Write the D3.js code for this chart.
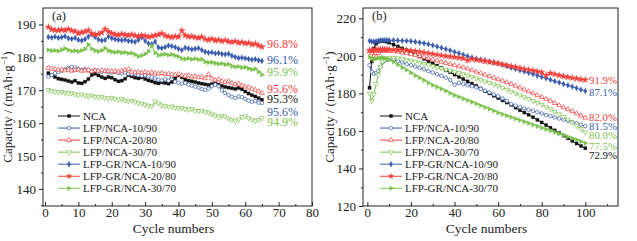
<!DOCTYPE html>
<html>
<head>
<meta charset="utf-8">
<script src="https://cdn.jsdelivr.net/npm/d3@7"></script>
<style>
  body { margin: 0; background: #fff; }
  svg { font-family: "Liberation Serif", "Times New Roman", serif; }
</style>
</head>
<body>
<svg id="chart" width="637" height="241"></svg>
<script>
// series names (legend order)
const seriesNames = ["NCA", "LFP/NCA-10/90", "LFP/NCA-20/80", "LFP/NCA-30/70",
  "LFP-GR/NCA-10/90", "LFP-GR/NCA-20/80", "LFP-GR/NCA-30/70"];

// panel (a) cycles and capacities
const cyclesA = d3.range(1, 66);
const ncaA = [175.2,174.6,174,173.5,173.3,173.1,172.8,172.5,172.9,172.2,
  172.1,172.6,173.4,174.6,175,174.5,174,173.6,174,173.8,
  173.2,172.7,172.9,173.5,174.6,174.2,173.8,173.6,173.9,173.4,
  173,172.7,172.3,172.1,172.4,172.2,172,172.5,173.6,174.5,
  173.9,173.2,172.9,172.7,172.5,172.2,172,171.8,171.6,171.9,
  172.1,171.7,171.3,171,170.8,170.6,170.4,170.7,170.3,169.6,
  169,168.5,168.1,167.6,167.1];
const lfp10A = [174.1,174.6,175.2,175.5,175.9,176.3,176.8,177.1,176.9,176.5,
  176.2,176.4,176,175.8,176.1,175.7,175.6,175.8,175.5,175.4,
  175.6,175.3,175.1,175.4,175,174.9,175.1,174.6,174.4,174.6,
  174.2,173.9,173.6,173.2,173,173.3,172.9,174.3,172.6,172.3,
  172,172.2,171.7,171.4,171.1,170.8,170.3,170.1,170.5,171.2,
  171.7,171.2,170,169.2,168.5,168,167.6,168.1,167.9,167.4,
  166.8,166.5,166.7,166.2,166.1];
const lfp20A = [176.8,176.5,176.4,176.2,176.3,176,176.2,175.9,176.1,176.3,
  175.9,176,176.1,175.8,176,175.9,176.1,175.8,175.9,175.7,
  175.8,175.6,175.9,176.2,176.4,175.6,175.4,175.6,175.3,175.5,
  175.2,175.4,175.1,175,175.2,174.9,175,174.8,174.6,174.9,
  174.5,174.3,174.5,174.1,174.2,173.9,174,173.6,174.8,173.5,
  173.1,173.3,172.8,172.5,172.7,172.2,171.8,172,171.4,171.1,
  170.8,170.4,170.1,169.6,169.1];
const lfp30A = [170.1,169.8,169.6,169.4,169.5,169.2,169,169.1,168.8,168.6,
  168.7,168.4,168.2,168.4,168,167.8,168,167.6,167.5,167.7,
  167.3,167.1,167.3,166.9,166.7,166.8,166.4,166.1,165.9,165.6,
  165.3,165.1,166.6,166,165.4,165.2,164.9,165.1,164.7,164.5,
  164.6,164.3,164.1,164.3,163.8,163.6,163.8,163.4,163.2,162.7,
  162.3,161.8,162.2,162,161.4,160.9,160.6,161.1,161.9,162.1,
  161.5,161,160.6,161,161.5];
const gr10A = [186.2,186,186.3,185.9,186.1,186.4,185.8,185.6,185.9,185.3,
  185.1,185.5,186.3,187,186.2,185.4,185.1,185.3,186.3,185.8,
  185.5,185.3,185.2,185.4,185,184.9,184.7,185.3,186.1,185,
  184.2,184,184.8,183,182.8,183.1,183.6,183.4,183.1,182.6,
  182.2,182.9,182.7,182.4,182.6,182.8,182.2,181.7,181.4,181.5,
  181.2,181.3,181,180.9,181.1,180.5,180.1,179.8,179.9,179.7,
  179.5,179.3,179.4,179.1,178.9];
const gr20A = [189.2,188.5,188.3,188.2,188.4,188.2,188.6,188.1,187.9,187.3,
  187.6,187.8,188.2,187.2,186.9,187.1,187.5,188.6,187.8,187.3,
  187,186.8,187.1,186.9,186.7,186.9,186.6,186.4,186.7,186.5,
  186.2,186.4,186.7,186.9,187.3,186.6,186.3,186.1,186.4,186.2,
  188.1,186.7,186.3,186.4,186.1,185.9,186.2,185.5,185.3,185.6,
  185.1,185.3,184.9,185.2,184.8,184.6,184.9,184.4,184.6,184.2,
  184.4,183.9,184.1,183.6,183.2];
const gr30A = [182.2,182,182.1,181.9,182.3,182.7,182.2,181.9,182,181.8,
  182.1,182.5,183.9,182.6,182,181.8,182.1,182.8,182,181.7,
  181.5,181.7,181.4,181.5,181.2,181.3,180.8,180.3,180.6,181,
  181.8,183.5,181.4,180.6,180.8,181,180.7,180.9,180.5,180.2,
  179.6,179.5,179.7,179.4,179.6,179.3,179.4,178.6,178.4,178.5,
  178.2,178,178.1,177.8,177.9,177.3,177.1,177.2,176.9,177,
  176.6,176.3,176.5,175.6,174.7];
const retentionA = ["95.3%", "95.6%", "95.6%", "94.9%", "96.1%", "96.8%", "95.9%"];
const retentionAtA = [167.3, 163.3, 170.3, 160.2, 179.3, 184.1, 175.5];

// panel (b) cycles and capacities
const cyclesB = d3.range(1, 11).concat(d3.range(12, 101, 2));
const ncaB = [183,197,204,206.5,207.5,208,208,207.8,207.5,207,
  206,205,204,203,202,200.8,199.6,198.4,197.2,196,
  194.8,193.6,192.4,191.2,190,188.8,187.6,186.4,185.2,184,
  182.6,181.2,180,178.7,177.5,176.3,175.1,173.9,172.4,171,
  169.8,168.6,167.3,165.9,164.5,163.1,161.7,160.3,158.9,157.5,
  156.1,154.7,153.3,152,150.8];
const lfp10B = [195,191.5,190.5,190.8,191.8,194,196.5,197.5,198,198,
  197.8,197.2,196.5,195.6,195,194.2,193.6,192.8,191.9,191.1,
  190.2,189.3,188.4,187.2,184.6,185.6,185,184.3,183.8,183.2,
  182.4,181.5,180.5,179.4,178.5,177.3,176,174.4,173.5,172.6,
  172,171.3,170.7,170,169.3,168.5,167.8,167.2,166.6,166,
  165.3,164.7,164,163.3,162.6];
const lfp20B = [202.5,201.5,200,199.5,201.5,202.5,202.8,202.8,202.7,202.6,
  202.5,202.2,201.8,201.4,201,200.4,199.8,199.2,198.6,198,
  197.4,196.8,196.2,195.6,195,194.4,193.8,193.1,192.3,191.5,
  190.7,189.9,189.1,188.3,187.5,186.7,185.9,185,184,183,
  182,181,180,179,178,177,176,174.8,173.6,172.5,
  171.5,170.5,169.3,168.1,167];
const lfp30B = [180,176,179.5,185,190,194,197,198,198.5,199,
  199,198.8,198.5,198,197.5,196.9,196.3,195.7,195.1,194.5,
  193.9,193.3,192.7,192.1,191.5,190.9,190.3,189.6,188.8,188,
  187.2,186.4,185.6,184.8,184,183,182,181,180,179,
  178,177,176,175,174,172.8,171.6,170.3,168.9,167.5,
  166,164.5,162.8,161,159.2];
const gr10B = [208,207.6,207.5,207.7,208,208.2,208.3,208.3,208.3,208.3,
  208.3,208.2,208.1,208,207.8,207.5,207.1,206.7,206.2,205.6,
  205,204.3,203.6,202.9,202.1,201.4,200.6,199.8,199.1,198.5,
  198,197.5,197,196.5,196,195.3,194.5,193.7,193,192.3,
  191.6,191,190.3,189.5,188.8,188.1,187.3,186.5,185.8,185,
  184.3,183.6,182.8,182,181.3];
const gr20B = [203,202.8,203,203.2,203.3,203.4,203.5,203.5,203.4,203.4,
  203.3,203.2,203.1,203,202.8,202.5,202.2,201.8,201.4,201,
  200.6,200.2,199.9,199.6,199.3,199,198.7,197.6,198.3,197.9,
  197.6,197.2,196.8,196.4,196,195.5,195,194.5,194,193.5,
  193,192.6,192.2,191.7,191.2,189.6,190.8,190.2,189.6,189.1,
  188.7,188.3,187.9,187.5,187.2];
const gr30B = [199.5,198.5,198,198.5,198.8,199,199,198.8,198.5,198,
  196.8,195.3,193.8,192.5,191,189.5,188.3,187,185.6,184.4,
  183.4,182.4,181.3,180.1,179,178.1,177.2,176.3,175.4,174.5,
  173.5,172.6,171.7,170.7,169.7,168.9,168.1,167.3,166.5,165.7,
  164.9,164.1,163.3,162.5,161.7,160.9,160.1,159.3,158.5,157.7,
  156.9,156.1,155.3,154.4,153.4];
const retentionB = ["72.9%", "81.5%", "82.0%", "80.0%", "87.1%", "91.9%", "77.5%"];
const retentionAtB = [146.7, 162.6, 167.3, 157.8, 180.6, 187.1, 152];

// styles
const colors = ["#111111", "#3a5cae", "#f2403c", "#7dc24e", "#3a5cae", "#f2403c", "#7dc24e"];
const symbols = [d3.symbolSquare, d3.symbolCircle, d3.symbolTriangle, d3.symbolTriangle,
  d3.symbolDiamond, d3.symbolStar, d3.symbolTriangle];
const rotations = [0, 0, 0, 180, 0, 0, 90];
const hollow = [false, true, true, true, false, false, false];

const svg = d3.select("#chart");

function drawPanel(opt) {
  const x = d3.scaleLinear().domain(opt.xDomain).range(opt.xRange);
  const y = d3.scaleLinear().domain(opt.yDomain).range([206, 8]);
  const g = svg.append("g");

  // frame
  g.append("rect")
    .attr("x", opt.xRange[0]).attr("y", 8)
    .attr("width", opt.xRange[1] - opt.xRange[0]).attr("height", 198)
    .attr("fill", "none").attr("stroke", "#222").attr("stroke-width", 1);

  // x axis (ticks inward)
  g.append("g").attr("transform", "translate(0,206)")
    .call(d3.axisBottom(x).tickValues(opt.xTicks).tickSize(-4).tickPadding(2));
  g.append("g").attr("transform", "translate(0,206)")
    .call(d3.axisBottom(x).tickValues(opt.xMinor).tickSize(-2).tickFormat(""));
  // y axis (ticks outward)
  g.append("g").attr("transform", "translate(" + opt.xRange[0] + ",0)")
    .call(d3.axisLeft(y).tickValues(opt.yTicks).tickSize(4).tickPadding(3));
  g.append("g").attr("transform", "translate(" + opt.xRange[0] + ",0)")
    .call(d3.axisLeft(y).tickValues(opt.yMinor).tickSize(2).tickFormat(""));
  g.selectAll(".domain").remove();
  g.selectAll(".tick line").attr("stroke", "#222");
  g.selectAll(".tick text").attr("font-size", 13).attr("fill", "#222")
    .attr("font-family", "Liberation Serif");

  // series
  opt.series.forEach(function(vals, i) {
    const pts = opt.cycles.map((c, k) => [c, vals[k]]);
    g.append("path")
      .datum(pts)
      .attr("fill", "none")
      .attr("stroke", colors[i])
      .attr("stroke-width", 1)
      .attr("d", d3.line().x(d => x(d[0])).y(d => y(d[1])));
    g.selectAll(".m" + i)
      .data(pts)
      .enter().append("path")
      .attr("transform", d => "translate(" + x(d[0]) + "," + y(d[1]) + ") rotate(" + rotations[i] + ")")
      .attr("d", d3.symbol().type(symbols[i]).size(i === 5 ? 14 : 10))
      .attr("fill", hollow[i] ? "#fff" : colors[i])
      .attr("stroke", colors[i])
      .attr("stroke-width", hollow[i] ? 0.7 : 0.3);
  });

  // retention labels
  opt.labels.forEach(function(lab, i) {
    g.append("text")
      .attr("x", opt.labelX)
      .attr("y", y(opt.labelAt[i]))
      .attr("dy", "0.33em")
      .attr("font-size", opt.labelSize)
      .attr("fill", colors[i])
      .text(lab);
  });

  // legend
  seriesNames.forEach(function(name, i) {
    const ly = 116 + i * 12.05;
    const lx = opt.legendX;
    g.append("line")
      .attr("x1", lx).attr("x2", lx + 22)
      .attr("y1", ly).attr("y2", ly)
      .attr("stroke", colors[i]).attr("stroke-width", 1);
    g.append("path")
      .attr("transform", "translate(" + (lx + 11) + "," + ly + ") rotate(" + rotations[i] + ")")
      .attr("d", d3.symbol().type(symbols[i]).size(10))
      .attr("fill", hollow[i] ? "#fff" : colors[i])
      .attr("stroke", colors[i])
      .attr("stroke-width", hollow[i] ? 0.7 : 0.3);
    g.append("text")
      .attr("x", lx + 25).attr("y", ly)
      .attr("dy", "0.35em")
      .attr("font-size", 11)
      .attr("fill", "#222")
      .text(name);
  });

  // panel tag
  g.append("text")
    .attr("x", opt.xRange[0] + 9).attr("y", 20)
    .attr("font-size", 12.5).attr("fill", "#222")
    .text(opt.tag);

  // axis titles
  g.append("text")
    .attr("x", (opt.xRange[0] + opt.xRange[1]) / 2 - 4)
    .attr("y", 233)
    .attr("text-anchor", "middle")
    .attr("font-size", 13.5).attr("fill", "#222")
    .text("Cycle numbers");

  const yt = g.append("text")
    .attr("transform", "translate(" + opt.yTitleX + ",107) rotate(-90)")
    .attr("text-anchor", "middle")
    .attr("font-size", 13).attr("fill", "#222");
  yt.append("tspan").text("Capacity / (mAh\u00b7g");
  yt.append("tspan").attr("dy", -5).attr("font-size", 9).text("\u22121");
  yt.append("tspan").attr("dy", 5).text(")");
}

drawPanel({
  xDomain: [-0.6, 80], xRange: [43, 312],
  yDomain: [134.8, 195],
  xTicks: d3.range(0, 81, 10), xMinor: d3.range(5, 80, 10),
  yTicks: d3.range(140, 191, 10), yMinor: d3.range(135, 195, 10),
  cycles: cyclesA,
  series: [ncaA, lfp10A, lfp20A, lfp30A, gr10A, gr20A, gr30A],
  labels: retentionA, labelAt: retentionAtA, labelX: 267, labelSize: 12,
  legendX: 58, tag: "(a)", yTitleX: 12
});

drawPanel({
  xDomain: [-2, 115], xRange: [363, 618],
  yDomain: [120, 225.5],
  xTicks: d3.range(0, 101, 20), xMinor: d3.range(10, 115, 20),
  yTicks: d3.range(120, 221, 20), yMinor: d3.range(130, 225, 20),
  cycles: cyclesB,
  series: [ncaB, lfp10B, lfp20B, lfp30B, gr10B, gr20B, gr30B],
  labels: retentionB, labelAt: retentionAtB, labelX: 589, labelSize: 10.8,
  legendX: 380, tag: "(b)", yTitleX: 334
});
</script>
</body>
</html>
